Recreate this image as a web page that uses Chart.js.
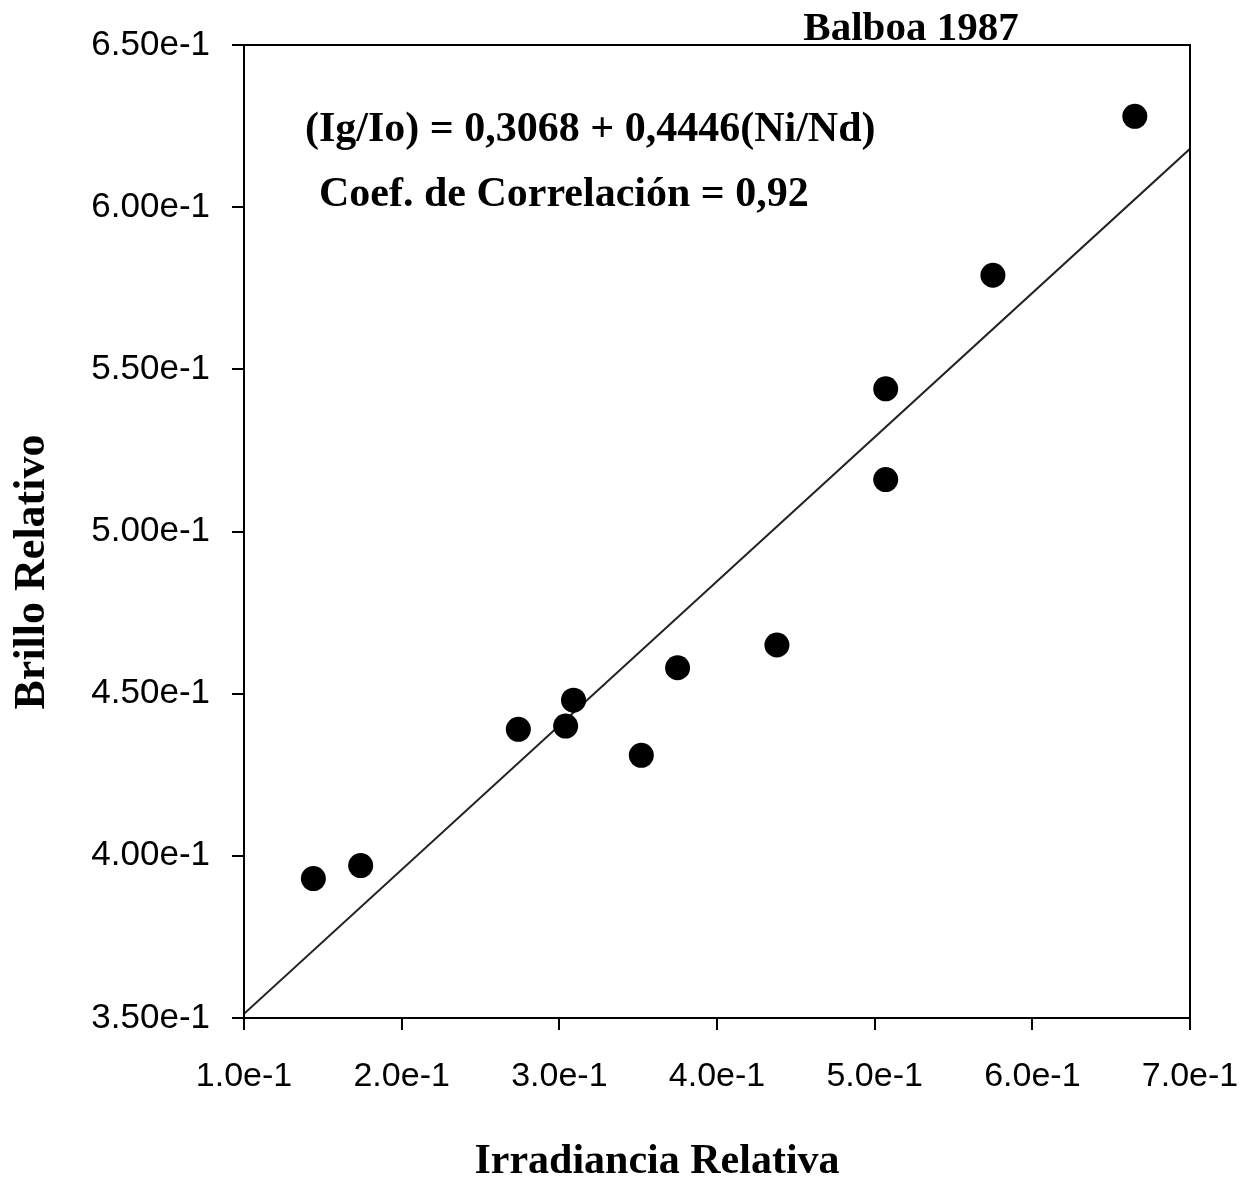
<!DOCTYPE html>
<html>
<head>
<meta charset="utf-8">
<script src="https://cdn.jsdelivr.net/npm/chart.js@4/dist/chart.umd.min.js"></script>
<style>
html,body{margin:0;padding:0;background:#fff;}
#wrap{width:1247px;height:1183px;position:relative;}
</style>
</head>
<body>
<div id="wrap"><canvas id="c" width="1247" height="1183"></canvas></div>
<script>
// Data
const xValues = [0.144, 0.174, 0.274, 0.304, 0.309, 0.352, 0.375, 0.438, 0.507, 0.507, 0.575, 0.665];
const yValues = [0.393, 0.397, 0.439, 0.440, 0.448, 0.431, 0.458, 0.465, 0.544, 0.516, 0.579, 0.628];
const fitX = [0.1, 0.7];
const fitY = [0.3513, 0.6180];
const xTickValues = [0.1, 0.2, 0.3, 0.4, 0.5, 0.6, 0.7];
const xTickLabels = ['1.0e-1', '2.0e-1', '3.0e-1', '4.0e-1', '5.0e-1', '6.0e-1', '7.0e-1'];
const yTickValues = [0.35, 0.40, 0.45, 0.50, 0.55, 0.60, 0.65];
const yTickLabels = ['3.50e-1', '4.00e-1', '4.50e-1', '5.00e-1', '5.50e-1', '6.00e-1', '6.50e-1'];
const titleText = 'Balboa 1987';
const equationText = '(Ig/Io) = 0,3068 + 0,4446(Ni/Nd)';
const corrText = 'Coef. de Correlación = 0,92';
const xTitle = 'Irradiancia Relativa';
const yTitle = 'Brillo Relativo';

function labelFor(values, labels, v) {
  for (let i = 0; i < values.length; i++) if (Math.abs(values[i] - v) < 1e-6) return labels[i];
  return '';
}

const serif = '"Liberation Serif", "Times New Roman", serif';
const sans = '"Liberation Sans", Arial, sans-serif';

const overlay = {
  id: 'overlay',
  afterDraw(chart) {
    const ctx = chart.ctx, a = chart.chartArea;
    ctx.save();
    ctx.strokeStyle = '#000';
    ctx.lineWidth = 2;
    ctx.strokeRect(a.left, a.top, a.right - a.left, a.bottom - a.top);
    ctx.fillStyle = '#000';
    ctx.textBaseline = 'middle';
    ctx.textAlign = 'center';
    ctx.font = 'bold 41px ' + serif;
    ctx.fillText(titleText, 911, 29);
    ctx.textAlign = 'left';
    ctx.font = 'bold 42px ' + serif;
    ctx.fillText(equationText, 305, 130);
    ctx.fillText(corrText, 319, 195);
    ctx.textAlign = 'center';
    ctx.font = 'bold 42px ' + serif;
    ctx.fillText(xTitle, 657, 1162);
    ctx.translate(33, 572);
    ctx.rotate(-Math.PI / 2);
    ctx.font = 'bold 44px ' + serif;
    ctx.fillText(yTitle, 0, 0);
    ctx.restore();
  }
};

new Chart(document.getElementById('c'), {
  type: 'scatter',
  data: {
    datasets: [
      {
        label: 'data',
        data: xValues.map((x, i) => ({x: x, y: yValues[i]})),
        pointRadius: 12.5,
        pointBackgroundColor: '#000',
        pointBorderColor: '#000',
        pointBorderWidth: 0,
        showLine: false
      },
      {
        label: 'fit',
        type: 'line',
        data: fitX.map((x, i) => ({x: x, y: fitY[i]})),
        borderColor: '#222',
        borderWidth: 2,
        pointRadius: 0,
        fill: false
      }
    ]
  },
  options: {
    responsive: false,
    animation: false,
    devicePixelRatio: 1,
    layout: {padding: {left: 0, top: 45, right: 57, bottom: 0}},
    plugins: {legend: {display: false}, tooltip: {enabled: false}},
    scales: {
      x: {
        type: 'linear',
        min: 0.1, max: 0.7,
        afterBuildTicks(scale) { scale.ticks = xTickValues.map(v => ({value: v})); },
        afterFit(scale) { scale.height = 165; scale.paddingLeft = 0; scale.paddingRight = 0; },
        grid: {drawOnChartArea: false, tickLength: 12, color: '#000', lineWidth: 2},
        border: {display: true, color: '#000', width: 2},
        ticks: {
          color: '#000', padding: 26,
          font: {family: sans, size: 34},
          maxRotation: 0, autoSkip: false,
          callback: v => labelFor(xTickValues, xTickLabels, v)
        }
      },
      y: {
        type: 'linear',
        min: 0.35, max: 0.65,
        afterBuildTicks(scale) { scale.ticks = yTickValues.map(v => ({value: v})); },
        afterFit(scale) { scale.width = 244; scale.paddingTop = 0; scale.paddingBottom = 0; },
        grid: {drawOnChartArea: false, tickLength: 12, color: '#000', lineWidth: 2},
        border: {display: true, color: '#000', width: 2},
        ticks: {
          color: '#000', padding: 22,
          font: {family: sans, size: 35},
          autoSkip: false,
          callback: v => labelFor(yTickValues, yTickLabels, v)
        }
      }
    }
  },
  plugins: [overlay]
});
</script>
</body>
</html>
